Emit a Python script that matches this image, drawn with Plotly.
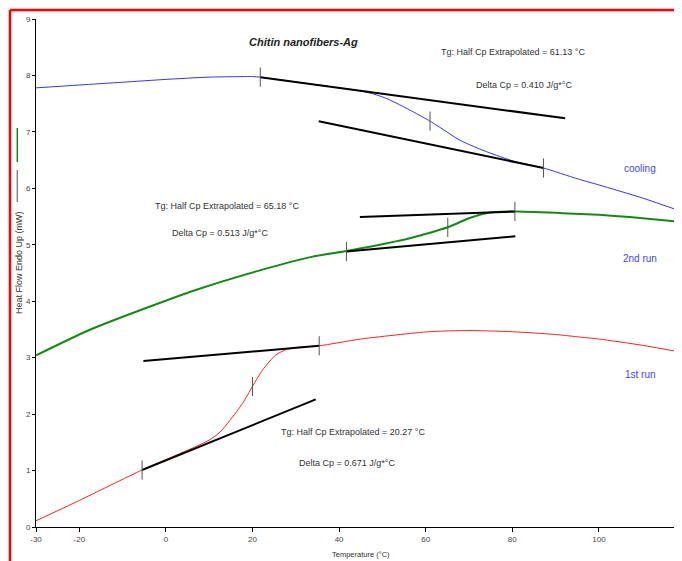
import plotly.graph_objects as go

# ---------------- data ----------------
cool_x = [-30, -20, -10, 0, 10, 20, 21.8, 30, 40, 44.6, 48, 51, 54, 57.5, 61, 64.5, 67.7, 73, 78, 80.8, 87.2, 95, 100, 110, 119.5]
cool_y = [7.78, 7.83, 7.88, 7.93, 7.97, 7.98, 7.97, 7.885, 7.78, 7.73, 7.67, 7.59, 7.48, 7.34, 7.19, 7.02, 6.86, 6.68, 6.54, 6.47, 6.36, 6.17, 6.06, 5.83, 5.58]

run2_x = [-30, -17.7, -4.6, 6.9, 22.3, 33.9, 41.7, 48, 53.1, 57, 60.8, 65.1, 70, 73.9, 80.6, 91.6, 100, 107.1, 119.5]
run2_y = [3.04, 3.49, 3.88, 4.20, 4.56, 4.79, 4.89, 4.98, 5.06, 5.13, 5.21, 5.31, 5.47, 5.56, 5.59, 5.56, 5.53, 5.49, 5.40]

run1_x = [-30, -20, -5.5, 6.2, 10, 12.5, 14.7, 17.7, 20, 22.3, 25.4, 27.7, 30, 35.4, 45, 60.8, 70, 80, 90, 95, 100, 110, 119.5]
run1_y = [0.11, 0.47, 1.01, 1.40, 1.54, 1.68, 1.88, 2.19, 2.49, 2.78, 3.05, 3.14, 3.18, 3.21, 3.33, 3.46, 3.48, 3.46, 3.41, 3.37, 3.33, 3.22, 3.09]

# tangent (baseline) segments: [x0, x1], [y0, y1]
tan_x = [[-5.5, 34.6], [-5.2, 35.4], [44.8, 80.6], [41.7, 80.7], [21.8, 92.2], [35.3, 87.2]]
tan_y = [[1.01, 2.26], [2.94, 3.21], [5.49, 5.59], [4.88, 5.15], [7.97, 7.24], [7.19, 6.36]]

# onset / midpoint / end markers
mark_x = [-5.5, 20.0, 35.4, 41.7, 65.1, 80.6, 21.8, 61.0, 87.2]
mark_y = [1.01, 2.49, 3.21, 4.88, 5.31, 5.59, 7.97, 7.19, 6.36]

x_ticks = [-30, -20, 0, 20, 40, 60, 80, 100, 120]
y_ticks = [0, 1, 2, 3, 4, 5, 6, 7, 8, 9]

title_text = "<b><i>Chitin nanofibers-Ag</i></b>"
notes = [
    ("Tg: Half Cp Extrapolated = 61.13 °C", 513, 52),
    ("Delta Cp = 0.410 J/g*°C", 524, 85),
    ("Tg: Half Cp Extrapolated = 65.18 °C", 227, 206),
    ("Delta Cp = 0.513 J/g*°C", 220, 233),
    ("Tg: Half Cp Extrapolated = 20.27 °C", 353, 432),
    ("Delta Cp = 0.671 J/g*°C", 347, 463),
]
curve_labels = [("cooling", 640, 168), ("2nd run", 640, 258), ("1st run", 640, 374)]

# ---------------- layout geometry (page has an 8px body margin) ----------------
OFF = 8
W, H = 682 - OFF, 561 - OFF
L = 36 - OFF
T = 19 - OFF
B = H - (527 - OFF)
PW = W - L
PH = H - T - B
XMIN = -30
XMAX = XMIN + PW / 4.33


def px(p):  # page pixel -> paper x
    return (p - 36) / PW


def py(q):  # page pixel -> paper y
    return (527 - q) / PH


FONT = "Liberation Sans, Arial, sans-serif"

fig = go.Figure()

fig.add_trace(go.Scatter(x=cool_x, y=cool_y, mode="lines", line=dict(color="#3333ff", width=1, shape="spline", smoothing=0.6), hoverinfo="skip"))
fig.add_trace(go.Scatter(x=run2_x, y=run2_y, mode="lines", line=dict(color="#138a13", width=2, shape="spline", smoothing=0.6), hoverinfo="skip"))
fig.add_trace(go.Scatter(x=run1_x, y=run1_y, mode="lines", line=dict(color="#ff2020", width=1, shape="spline", smoothing=0.6), hoverinfo="skip"))

# tangents
tx, ty = [], []
for xs, ys in zip(tan_x, tan_y):
    tx += xs + [None]
    ty += ys + [None]
fig.add_trace(go.Scatter(x=tx, y=ty, mode="lines", line=dict(color="black", width=2), hoverinfo="skip"))

# vertical markers
half = 0.17
mx, my = [], []
for x, y in zip(mark_x, mark_y):
    mx += [x, x, None]
    my += [y - half, y + half, None]
fig.add_trace(go.Scatter(x=mx, y=my, mode="lines", line=dict(color="#555555", width=1), hoverinfo="skip"))

annotations = []
annotations.append(dict(text=title_text, x=px(303), y=py(42), xref="paper", yref="paper", showarrow=False,
                        font=dict(family=FONT, size=11, color="#222222"), xanchor="center", yanchor="middle"))
for t, xx, yy in notes:
    annotations.append(dict(text=t, x=px(xx), y=py(yy), xref="paper", yref="paper", showarrow=False,
                            font=dict(family=FONT, size=9, color="#333333"), xanchor="center", yanchor="middle"))
for t, xx, yy in curve_labels:
    annotations.append(dict(text=t, x=px(xx), y=py(yy), xref="paper", yref="paper", showarrow=False,
                            font=dict(family=FONT, size=10, color="#4444ff"), xanchor="center", yanchor="middle"))
annotations.append(dict(text="Heat Flow Endo Up (mW)", x=px(19), y=py(263), xref="paper", yref="paper", showarrow=False,
                        textangle=-90, font=dict(family=FONT, size=9, color="#333333"), xanchor="center", yanchor="middle"))
annotations.append(dict(text="Temperature (°C)", x=px(361), y=py(554), xref="paper", yref="paper", showarrow=False,
                        font=dict(family=FONT, size=7.5, color="#333333"), xanchor="center", yanchor="middle"))

shapes = [
    # red frame
    dict(type="line", xref="paper", yref="paper", x0=px(10), x1=px(10), y0=py(10), y1=py(570), line=dict(color="#ff0000", width=2.5)),
    dict(type="line", xref="paper", yref="paper", x0=px(10), x1=px(700), y0=py(10), y1=py(10), line=dict(color="#ff0000", width=2.5)),
    # little legend strokes beside y title
    dict(type="line", xref="paper", yref="paper", x0=px(17.3), x1=px(17.3), y0=py(128), y1=py(162), line=dict(color="#138a13", width=1.5)),
    dict(type="line", xref="paper", yref="paper", x0=px(17.3), x1=px(17.3), y0=py(170), y1=py(202), line=dict(color="#888888", width=1.5)),
]

fig.update_layout(
    width=W, height=H,
    margin=dict(l=L, r=0, t=T, b=B),
    paper_bgcolor="white", plot_bgcolor="white",
    showlegend=False,
    annotations=annotations,
    shapes=shapes,
    xaxis=dict(range=[XMIN, XMAX], tickvals=x_ticks, ticktext=[str(v) for v in x_ticks],
               showgrid=False, zeroline=False, showline=True, linecolor="black", linewidth=1,
               ticks="outside", ticklen=4, tickcolor="black",
               tickfont=dict(family=FONT, size=8, color="#444444")),
    yaxis=dict(range=[0, 9], tickvals=y_ticks, ticktext=[str(v) for v in y_ticks],
               showgrid=False, zeroline=False, showline=True, linecolor="black", linewidth=1,
               ticks="outside", ticklen=3, tickcolor="black",
               tickfont=dict(family=FONT, size=8, color="#444444")),
)

fig.write_html("out.html")
